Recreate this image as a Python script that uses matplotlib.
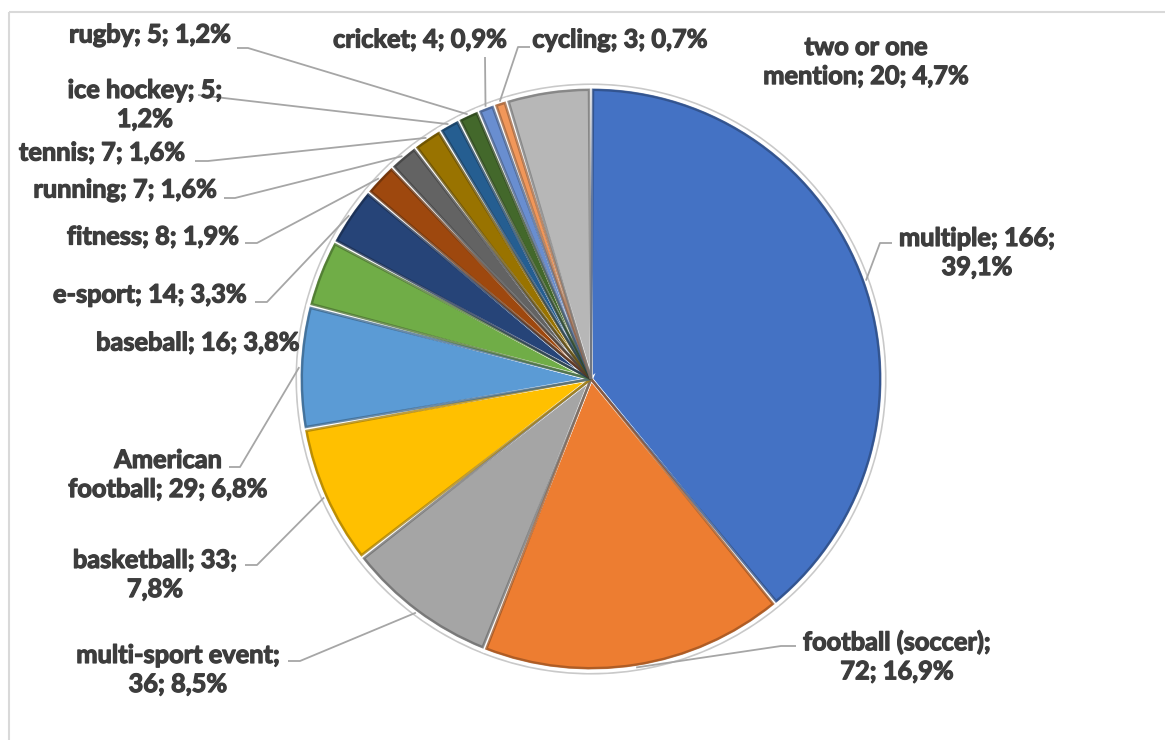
import numpy as np
import matplotlib.pyplot as plt
import matplotlib.patheffects as pe
from matplotlib import font_manager
from matplotlib.patches import Wedge, Rectangle, Circle

# data
categories = [
    "multiple", "football (soccer)", "multi-sport event", "basketball",
    "American football", "baseball", "e-sport", "fitness", "running",
    "tennis", "ice hockey", "rugby", "cricket", "cycling",
    "two or one mention",
]
counts = [166, 72, 36, 33, 29, 16, 14, 8, 7, 7, 5, 5, 4, 3, 20]

colors = [
    "#4472C4", "#ED7D31", "#A5A5A5", "#FFC000", "#5B9BD5", "#70AD47",
    "#264478", "#9E480E", "#636363", "#997300", "#255E91", "#43682B",
    "#698ED0", "#F1975A", "#B7B7B7",
]

# layout (pixel coordinates of a 1165x740 canvas)
W, H = 1165, 740
CX, CY, R = 591, 379, 292
# label centres
label_pos = [
    (977, 253), (897, 657), (178, 670), (155, 575), (168, 475),
    (198, 343), (150, 295), (153, 237), (125, 190), (102, 153),
    (145, 105), (150, 35), (420, 40), (620, 40), (866, 62),
]
# break the label after n words (0 = one line)
wrap_after = [2, 2, 2, 2, 1, 0, 0, 0, 0, 0, 3, 0, 0, 0, 3]
# start of each leader line near its label (None = no leader)
leader_start = [
    [(892, 243), (880, 243)],
    [(796, 646), (781, 646)],
    [(288, 661), (300, 661)],
    [(245, 565), (257, 565)],
    [(229, 467), (240, 467)],
    None,
    [(255, 302), (267, 302)],
    [(245, 243), (257, 243)],
    [(224, 198), (235, 198)],
    [(195, 161), (208, 161)],
    [(198, 95)],
    [(237, 48), (248, 48)],
    [(485, 57)],
    [(530, 47), (518, 47)],
    None,
]

TEXT_COLOR = "#3d3d3d"
LEADER_COLOR = "#a6a6a6"


def pick_bold_family():
    for fam in ["Lato", "Open Sans", "Roboto", "Liberation Sans"]:
        for f in font_manager.fontManager.ttflist:
            if f.name == fam and f.weight in (700, "bold") and f.style == "normal":
                return fam
    return "DejaVu Sans"


def make_label(name, n, total, k):
    pct = f"{n / total * 100:.1f}".replace(".", ",")
    words = f"{name}; {n}; {pct}%".split(" ")
    if k == 0:
        return " ".join(words)
    return " ".join(words[:k]) + "\n" + " ".join(words[k:])


def darker(hex_color, f=0.7):
    h = hex_color.lstrip("#")
    rgb = [int(h[i:i + 2], 16) / 255 for i in (0, 2, 4)]
    return tuple(c * f for c in rgb)


fig = plt.figure(figsize=(W / 100, H / 100), dpi=100)
ax = fig.add_axes([0, 0, 1, 1])
ax.set_xlim(0, W)
ax.set_ylim(H, 0)

total = sum(counts)
family = pick_bold_family()

# size the font so that a reference label is ~162 px wide
probe = ax.text(0, 0, "rugby; 5; 1,2%", fontsize=20, fontweight="bold",
                family=family)
rend = fig.canvas.get_renderer()
fs = 20 * 162 / probe.get_window_extent(rend).width
probe.remove()

# outer rim
ax.add_patch(Circle((CX, CY), R + 1.5, facecolor="none", edgecolor="#c9c9c9",
                    linewidth=3, zorder=1))

wedges, _ = ax.pie(
    counts, colors=colors, startangle=-90, counterclock=True,
    center=(CX, CY), radius=R,
    wedgeprops=dict(edgecolor="white", linewidth=2.8),
)
for w in wedges:
    w.set_zorder(2)

# bevel-like inner shading
for w, c in zip(wedges, colors):
    inner = Wedge((CX, CY), R - 2.8, w.theta1 + 0.4, w.theta2 - 0.4,
                  facecolor="none", edgecolor=darker(c, 0.65),
                  linewidth=1.8, alpha=0.75, zorder=3)
    ax.add_patch(inner)

# labels and leaders
bolder = [pe.withStroke(linewidth=0.9, foreground=TEXT_COLOR)]
for i, w in enumerate(wedges):
    txt = make_label(categories[i], counts[i], total, wrap_after[i])
    x, y = label_pos[i]
    ax.text(x, y, txt, ha="center", va="center", multialignment="center",
            fontsize=fs, fontweight="bold", color=TEXT_COLOR,
            family=family, linespacing=1.32, zorder=5, path_effects=bolder)
    if leader_start[i] is None:
        continue
    mid = np.deg2rad((w.theta1 + w.theta2) / 2)
    ex, ey = CX + R * np.cos(mid), CY + R * np.sin(mid)
    pts = leader_start[i] + [(ex, ey)]
    ax.plot([p[0] for p in pts], [p[1] for p in pts], color=LEADER_COLOR,
            linewidth=1.3, zorder=4, solid_capstyle="butt")

# chart frame
ax.add_patch(Rectangle((9, 12), W, H, facecolor="none", edgecolor="#d9d9d9",
                       linewidth=1.5, zorder=0))

ax.set_xlim(0, W)
ax.set_ylim(H, 0)
ax.set_aspect("auto")
ax.axis("off")

fig.savefig("out.png", dpi=100, facecolor="white")
